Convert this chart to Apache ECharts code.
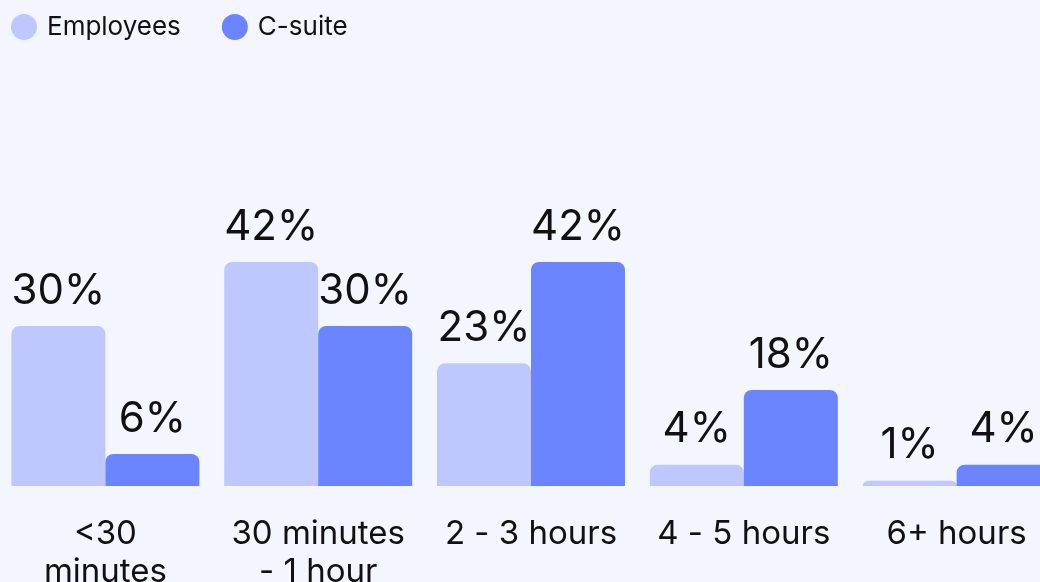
<!DOCTYPE html>
<html>
<head>
<meta charset="utf-8">
<script src="https://cdn.jsdelivr.net/npm/echarts@6/dist/echarts.min.js"></script>
<style>
  html, body { margin: 0; padding: 0; background: #f3f5ff; }
  #main { width: 1040px; height: 582px; }
</style>
</head>
<body>
<div id="main"></div>
<script>
  // 数据
  const categories = ['<30\nminutes', '30 minutes\n- 1 hour', '2 - 3 hours', '4 - 5 hours', '6+ hours'];
  const employees = [30, 42, 23, 4, 1];
  const csuite = [6, 30, 42, 18, 4];

  const fontFamily = 'Inter, "Noto Sans", sans-serif';

  const myChart = echarts.init(document.getElementById('main'));
  myChart.setOption({
    backgroundColor: '#f3f5ff',
    color: ['#bec8ff', '#6b85ff'],
    textStyle: { fontFamily: fontFamily },
    legend: {
      left: 11,
      top: 14,
      padding: 0,
      icon: 'circle',
      itemWidth: 26,
      itemHeight: 26,
      itemGap: 41,
      textStyle: { fontSize: 26, color: '#111', fontFamily: fontFamily, padding: [0, 0, 0, 5] },
      data: ['Employees', 'C-suite']
    },
    grid: {
      left: -1,
      right: -23,
      top: 166,
      bottom: 96,
      containLabel: false,
      outerBoundsMode: 'none'
    },
    xAxis: {
      type: 'category',
      data: categories,
      axisLine: { show: false },
      axisTick: { show: false },
      axisLabel: {
        margin: 29,
        fontSize: 33,
        lineHeight: 38,
        color: '#111',
        fontFamily: fontFamily,
        interval: 0
      }
    },
    yAxis: {
      type: 'value',
      min: 0,
      max: 60,
      show: false,
      splitLine: { show: false }
    },
    series: [
      {
        name: 'Employees',
        type: 'bar',
        data: employees,
        barWidth: 94,
        barGap: '0%',
        itemStyle: { borderRadius: [8, 8, 0, 0] },
        label: {
          show: true,
          position: 'top',
          distance: 14,
          formatter: '{c}%',
          fontSize: 42,
          color: '#111',
          fontFamily: fontFamily
        }
      },
      {
        name: 'C-suite',
        type: 'bar',
        data: csuite,
        barWidth: 94,
        barGap: '0%',
        itemStyle: { borderRadius: [8, 8, 0, 0] },
        label: {
          show: true,
          position: 'top',
          distance: 14,
          formatter: '{c}%',
          fontSize: 42,
          color: '#111',
          fontFamily: fontFamily
        }
      }
    ]
  });
</script>
</body>
</html>
